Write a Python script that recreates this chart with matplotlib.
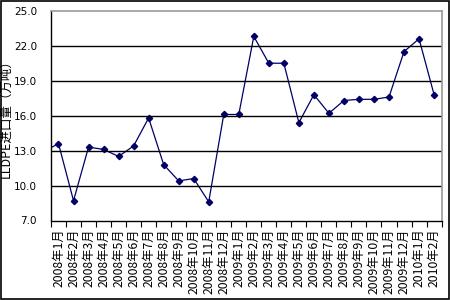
import matplotlib
matplotlib.use('Agg')
import matplotlib.pyplot as plt
from matplotlib.patches import Rectangle

plt.rcParams['font.family'] = ['Noto Sans CJK SC', 'DejaVu Sans']

months = ['2008年1月', '2008年2月', '2008年3月', '2008年4月', '2008年5月', '2008年6月',
          '2008年7月', '2008年8月', '2008年9月', '2008年10月', '2008年11月', '2008年12月',
          '2009年1月', '2009年2月', '2009年3月', '2009年4月', '2009年5月', '2009年6月',
          '2009年7月', '2009年8月', '2009年9月', '2009年10月', '2009年11月', '2009年12月',
          '2010年1月', '2010年2月']
imports = [13.6, 8.7, 13.3, 13.1, 12.5, 13.4, 15.8, 11.8, 10.4, 10.6, 8.6, 16.1,
           16.1, 22.8, 20.5, 20.5, 15.4, 17.8, 16.2, 17.3, 17.4, 17.4, 17.6, 21.5,
           22.6, 17.8]
prev_month = 12.9  # 2007年12月, only the lead-in segment is visible
yticks = [7.0, 10.0, 13.0, 16.0, 19.0, 22.0, 25.0]

fig = plt.figure(figsize=(4.5, 3), dpi=100)
ax = fig.add_axes([0.1133, 0.265, 0.868, 0.699])

navy = '#000066'
xs = list(range(-1, len(months)))
ax.plot(xs, [prev_month] + imports, color=navy, lw=0.9, clip_on=True)
ax.plot(range(len(months)), imports, ls='none', marker='D', ms=3.2, color=navy)

ax.set_xlim(-0.5, len(months) - 0.5)
ax.set_ylim(7, 25)
ax.set_yticks(yticks)
ax.set_yticklabels(['%.1f' % v for v in yticks], fontsize=7.5, family='DejaVu Sans')
for v in yticks[1:-1]:
    ax.axhline(v, color='black', lw=1.0)

ax.set_xticks([i + 0.5 for i in range(-1, len(months))])
ax.set_xticklabels([])
ax.set_xticks(range(len(months)), minor=True)
ax.set_xticklabels(months, minor=True, rotation=90, fontsize=8.8)
ax.tick_params(axis='x', which='major', direction='out', length=4, width=0.8)
ax.tick_params(axis='x', which='minor', length=0, pad=5.5)
ax.tick_params(axis='y', length=0, pad=10)

ax.set_ylabel('LLDPE进口量（万吨）', fontsize=9, labelpad=1)

for s in ['left', 'bottom']:
    ax.spines[s].set_color('black')
    ax.spines[s].set_linewidth(1.0)
for s in ['top', 'right']:
    ax.spines[s].set_color('#999999')
    ax.spines[s].set_linewidth(1.2)

fig.patches.append(Rectangle((0.002, 0.005), 0.995, 0.992, transform=fig.transFigure,
                             fill=False, edgecolor='black', lw=1.2))

fig.savefig('out.png', dpi=100)
